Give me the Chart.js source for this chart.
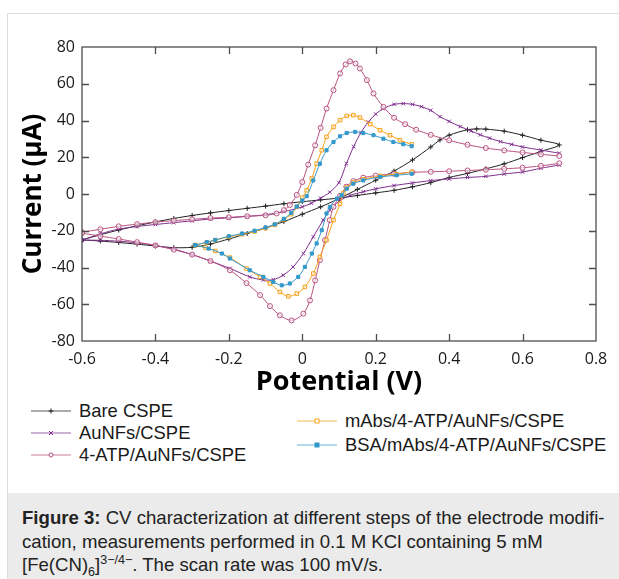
<!DOCTYPE html>
<html>
<head>
<meta charset="utf-8">
<script src="https://cdn.jsdelivr.net/npm/chart.js@4.4.0/dist/chart.umd.min.js"></script>
<style>
  html, body { margin: 0; padding: 0; background: #fff; }
  #page { position: relative; width: 619px; height: 579px; overflow: hidden;
          font-family: "Liberation Sans", Arial, sans-serif; color: #1a1a1a; }
  #frame { position: absolute; left: 7px; top: 13px; width: 640px; height: 600px;
           border: 1px solid #dcdcdc; box-sizing: border-box; }
  #cv { position: absolute; left: 0; top: 0; }
  .leg { position: absolute; height: 22px; display: flex; align-items: center;
         font-size: 18.4px; white-space: nowrap; }
  .leg svg { margin-right: 8px; flex: none; }
  #caption { position: absolute; left: 8px; top: 493px; width: 611px; height: 86px;
             background: #ebebeb; box-sizing: border-box; padding: 13px 0 0 14px;
             font-size: 18.6px; line-height: 23.5px; color: #222; }
  #caption sub, #caption sup { font-size: 12.5px; line-height: 0; }
</style>
</head>
<body>
<div id="page">
  <div id="frame"></div>
  <canvas id="cv" width="619" height="399"></canvas>
  <div id="legend"></div>
  <div id="caption"><b>Figure 3:</b> CV characterization at different steps of the electrode modifi-<br>cation, measurements performed in 0.1 M KCl containing 5 mM<br>[Fe(CN)<sub>6</sub>]<sup>3−/4−</sup>. The scan rate was 100 mV/s.</div>
</div>
<script>
/* CV curves — potential (V) / current (µA).
   null marks the jump at the switching potential (no line drawn there). */

const seriesNames = ['Bare CSPE', 'AuNFs/CSPE', '4-ATP/AuNFs/CSPE', 'mAbs/4-ATP/AuNFs/CSPE', 'BSA/mAbs/4-ATP/AuNFs/CSPE'];

const bareV = [-0.6, -0.55, -0.5, -0.45, -0.4, -0.35, -0.3, -0.25, -0.2, -0.15, -0.1, -0.05, 0, 0.05, 0.1, 0.15, 0.2, 0.25, 0.3, 0.35, 0.4, 0.45, 0.5, 0.55, 0.6, 0.65, 0.7,
  0.65, 0.6, 0.55, 0.5, 0.475, 0.45, 0.4, 0.375, 0.35, 0.3, 0.25, 0.2, 0.15, 0.1, 0.05, 0, -0.05, -0.1, -0.15, -0.2, -0.25, -0.3, -0.35, -0.4, -0.45, -0.5, -0.55, -0.6];
const bareI = [-25, -22.2, -19.6, -17.3, -15.2, -13.3, -11.7, -10.3, -9.0, -7.8, -6.6, -5.3, -4.2, -3.2, -2.2, -0.8, 0.6, 2.0, 3.9, 6.2, 9.0, 11.2, 13.7, 16.4, 19.8, 23.2, 26.7,
  29.3, 32.0, 34.2, 35.3, 35.4, 35.0, 32.0, 29.4, 25.6, 18.5, 12.5, 7.5, 2.5, -2.5, -7, -11, -15, -18.5, -21.5, -24.5, -27.2, -29.0, -29.2, -28.3, -27.3, -26.4, -25.6, -25];

const aunfV = [-0.6, -0.55, -0.5, -0.45, -0.4, -0.35, -0.3, -0.25, -0.2, -0.15, -0.1, -0.05, 0, 0.025, 0.05, 0.075, 0.1, 0.12, 0.14, 0.16, 0.18, 0.2, 0.22, 0.25, 0.275, 0.3, 0.325, 0.35, 0.375, 0.4, 0.43, 0.46, 0.485, 0.51, 0.54, 0.57, 0.6, 0.65, 0.7,
  null,
  0.7, 0.65, 0.6, 0.55, 0.5, 0.45, 0.4, 0.35, 0.3, 0.25, 0.2, 0.166, 0.13, 0.1, 0.075, 0.057, 0.03, 0.003, -0.025, -0.052, -0.079, -0.106, -0.143, -0.197, -0.25, -0.3, -0.35, -0.4, -0.45, -0.5, -0.55, -0.6];
const aunfI = [-25.1, -21.7, -19.1, -17.7, -16.6, -15.6, -14.6, -13.6, -13.0, -12.2, -11.3, -9.6, -7.0, -5.0, -2.3, 1.0, 6.2, 16.5, 25.8, 33.5, 39.2, 43.5, 46.4, 48.8, 49.2, 48.8, 47.5, 45.5, 42.1, 39.5, 36.7, 34.3, 32.2, 30.4, 28.5, 27.0, 25.6, 23.9, 22.2,
  null,
  15.8, 14.0, 12.0, 10.9, 9.6, 9.0, 8.2, 7.3, 6.0, 4.6, 2.8, 1.2, -0.8, -4.0, -8.8, -14.2, -23.3, -32.4, -39.7, -44.2, -46.6, -46.8, -45.1, -40.5, -36.5, -33.0, -30.0, -28.0, -26.6, -25.7, -25.2, -25.1];

const atpV = [-0.6, -0.55, -0.5, -0.45, -0.4, -0.35, -0.3, -0.25, -0.2, -0.15, -0.1, -0.07, -0.05, -0.034, -0.015, 0, 0.016, 0.035, 0.05, 0.066, 0.085, 0.103, 0.118, 0.13, 0.145, 0.157, 0.176, 0.194, 0.221, 0.25, 0.28, 0.31, 0.35, 0.4, 0.45, 0.5, 0.55, 0.6, 0.65, 0.7,
  null,
  0.7, 0.65, 0.6, 0.55, 0.5, 0.45, 0.4, 0.35, 0.3, 0.25, 0.2, 0.166, 0.139, 0.12, 0.103, 0.085, 0.075, 0.062, 0.048, 0.035, 0.021, 0.003, -0.029, -0.061, -0.088, -0.115, -0.152, -0.197, -0.25, -0.3, -0.35, -0.4, -0.45, -0.5, -0.55, -0.6];
const atpI = [-20.8, -19.2, -17.6, -16.4, -15.3, -14.5, -13.8, -13.1, -12.7, -12.1, -11.6, -10.6, -8.8, -6.0, -0.5, 6.5, 16.0, 26.5, 36.0, 46.5, 56.5, 65.6, 70.5, 72.2, 71.0, 68.3, 62.0, 54.7, 47.4, 41.5, 38.0, 35.0, 32.2, 29.2, 26.8, 25.0, 23.7, 22.6, 21.6, 20.7,
  null,
  16.7, 15.3, 14.3, 13.7, 13.2, 12.8, 12.4, 12.1, 11.8, 11.0, 10.0, 8.9, 7.0, 4.0, -1.0, -7.0, -14.2, -25.1, -36.0, -47.0, -57.9, -65.1, -68.8, -66.0, -61.0, -55.0, -48.5, -41.5, -36.5, -33.0, -30.3, -28.0, -26.2, -24.5, -22.9, -21.3];

const mabV = [-0.292, -0.26, -0.237, -0.2, -0.164, -0.13, -0.1, -0.075, -0.05, -0.03, -0.015, 0, 0.012, 0.026, 0.039, 0.053, 0.066, 0.085, 0.103, 0.121, 0.139, 0.157, 0.185, 0.212, 0.239, 0.266, 0.298,
  null,
  0.298, 0.257, 0.212, 0.166, 0.139, 0.121, 0.112, 0.103, 0.085, 0.066, 0.048, 0.03, 0.007, -0.015, -0.038, -0.061, -0.088, -0.115, -0.152, -0.197, -0.237, -0.264, -0.292];
const mabI = [-27.8, -26.3, -25.1, -23.3, -21.9, -20.4, -18.6, -16.8, -13.8, -11.0, -7.0, -2.0, 2.0, 8.5, 16.5, 23.8, 31.1, 36.5, 40.2, 42.5, 42.9, 41.6, 38.0, 34.7, 32.0, 29.3, 27.0,
  null,
  12.0, 10.8, 9.8, 8.0, 6.2, 3.5, 0.5, -5.3, -14.2, -25.1, -34.2, -43.3, -50.6, -54.2, -55.7, -53.3, -48.7, -45.1, -40.6, -34.6, -31.0, -29.2, -27.8];

const bsaV = [-0.292, -0.26, -0.237, -0.2, -0.164, -0.13, -0.1, -0.075, -0.05, -0.03, -0.015, 0, 0.012, 0.03, 0.048, 0.066, 0.085, 0.103, 0.121, 0.144, 0.166, 0.194, 0.221, 0.248, 0.275, 0.298,
  null,
  0.298, 0.257, 0.212, 0.166, 0.139, 0.121, 0.107, 0.094, 0.075, 0.066, 0.053, 0.039, 0.026, 0.007, -0.011, -0.034, -0.056, -0.079, -0.106, -0.143, -0.197, -0.219, -0.255, -0.292];
const bsaI = [-27.8, -26.2, -25.0, -23.0, -21.5, -20.0, -18.2, -16.5, -13.5, -10.3, -6.8, -3.5, -1.2, 7.4, 16.5, 23.8, 28.3, 31.4, 33.2, 33.8, 33.2, 32.0, 30.1, 28.3, 27.1, 26.0,
  null,
  11.0, 10.2, 9.3, 7.4, 5.6, 2.9, -0.7, -2.5, -7.0, -10.6, -19.7, -26.9, -32.4, -39.7, -45.1, -48.7, -49.7, -47.9, -45.1, -41.5, -35.1, -32.4, -29.7, -27.8];

const potentialRange = [-0.6, 0.8];
const currentRange = [-80, 80];

/* ===== 見た目 ===== */
const palette = ['#222222', '#7e2f8e', '#b8517f', '#f7a11a', '#3399cc'];
const markers = ['cross', 'crossRot', 'circle', 'rect', 'rect'];
const hollow = [false, false, true, true, false];

Chart.defaults.font.family = '"Open Sans", sans-serif';

const curves = [[bareV, bareI], [aunfV, aunfI], [atpV, atpI], [mabV, mabI], [bsaV, bsaI]];
const datasets = curves.map(([vs, is], k) => ({
  label: seriesNames[k],
  data: vs.map((v, i) => ({ x: v, y: is[i] })),
  showLine: true,
  borderColor: palette[k],
  borderWidth: 1,
  pointStyle: markers[k],
  pointRadius: k === 4 ? 2.2 : 2.5,
  pointBorderWidth: 1,
  pointBorderColor: palette[k],
  pointBackgroundColor: hollow[k] ? 'rgba(255,255,255,0.55)' : palette[k],
  tension: 0.3,
  order: 5 - k,
}));

// 枠と内向きの目盛り（上下左右）
const frameTicks = {
  id: 'frameTicks',
  afterDatasetsDraw(chart) {
    const { ctx, chartArea: a, scales: { x, y } } = chart;
    ctx.save();
    ctx.strokeStyle = '#4d4d4d';
    ctx.lineWidth = 1.3;
    ctx.beginPath();
    x.ticks.forEach(t => {
      if (t.value <= x.min || t.value >= x.max) return;
      const px = Math.round(x.getPixelForValue(t.value)) + 0.5;
      ctx.moveTo(px, a.bottom); ctx.lineTo(px, a.bottom - 7);
      ctx.moveTo(px, a.top); ctx.lineTo(px, a.top + 7);
    });
    y.ticks.forEach(t => {
      if (t.value <= y.min || t.value >= y.max) return;
      const py = Math.round(y.getPixelForValue(t.value)) + 0.5;
      ctx.moveTo(a.left, py); ctx.lineTo(a.left + 7, py);
      ctx.moveTo(a.right, py); ctx.lineTo(a.right - 7, py);
    });
    ctx.stroke();
    ctx.strokeRect(a.left, a.top, a.right - a.left, a.bottom - a.top);
    ctx.restore();
  },
};

new Chart(document.getElementById('cv'), {
  type: 'scatter',
  data: { datasets },
  options: {
    responsive: false,
    animation: false,
    layout: { padding: { top: 47, right: 23, left: 0, bottom: 0 } },
    plugins: { legend: { display: false }, tooltip: { enabled: false } },
    scales: {
      x: {
        type: 'linear', min: potentialRange[0], max: potentialRange[1],
        ticks: { stepSize: 0.2, padding: 9, color: '#1a1a1a', font: { size: 16 } },
        grid: { display: false, drawTicks: false },
        border: { display: false },
        title: { display: true, text: 'Potential (V)', color: '#000', padding: 0,
                 font: { size: 27, weight: 'bold' } },
        afterFit(s) { s.height = 58; },
      },
      y: {
        type: 'linear', min: currentRange[0], max: currentRange[1],
        ticks: { stepSize: 20, padding: 7, color: '#1a1a1a', font: { size: 16 } },
        grid: { display: false, drawTicks: false },
        border: { display: false },
        title: { display: true, text: 'Current (μA)', color: '#000', padding: { top: 18, bottom: 0 },
                 font: { size: 26, weight: 'bold' } },
        afterFit(s) { s.width = 82; },
      },
    },
  },
  plugins: [frameTicks],
});

/* ===== 凡例（2段組） ===== */
const legendSlots = [[31, 411], [31, 433], [31, 455], [297, 421], [297, 445]];

function sampleSvg(k) {
  const c = palette[k];
  let m = '';
  if (markers[k] === 'cross') m = `<path d="M17.5 6h5M20 3.5v5" stroke="${c}"/>`;
  else if (markers[k] === 'crossRot') m = `<path d="M18 4l4 4M22 4l-4 4" stroke="${c}"/>`;
  else if (markers[k] === 'circle') m = `<circle cx="20" cy="6" r="2" fill="#fff" stroke="${c}"/>`;
  else m = `<rect x="18" y="4" width="4" height="4" fill="${hollow[k] ? '#fff' : c}" stroke="${c}"/>`;
  return `<svg width="40" height="12" viewBox="0 0 40 12"><line x1="0" y1="6" x2="40" y2="6" stroke="${c}" stroke-opacity="0.75"/>${m}</svg>`;
}

document.getElementById('legend').innerHTML = seriesNames.map((name, k) =>
  `<div class="leg" style="left:${legendSlots[k][0]}px;top:${legendSlots[k][1] - 11}px">${sampleSvg(k)}<span>${name}</span></div>`
).join('');
</script>
</body>
</html>
